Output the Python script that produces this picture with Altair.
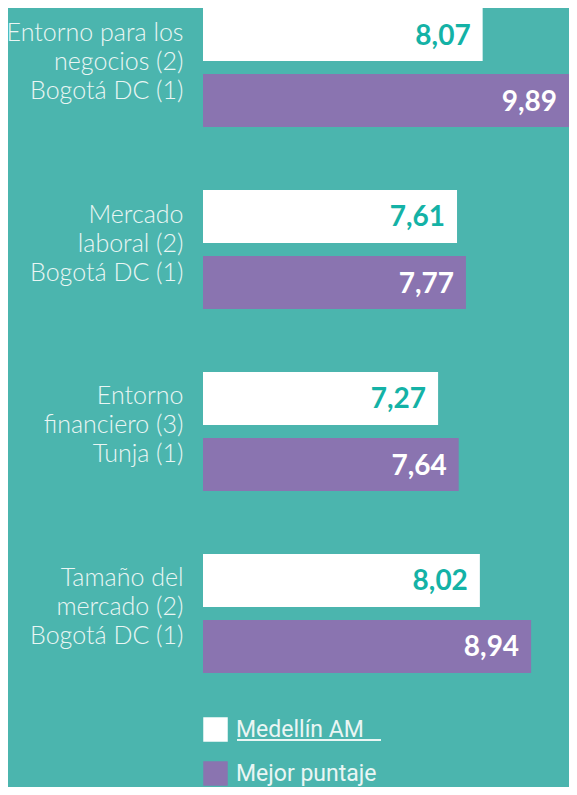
import altair as alt
import pandas as pd

# ---- data ----
category_lines = [
    ["Entorno para los", "negocios (2)"],
    ["Mercado", "laboral (2)"],
    ["Entorno", "financiero (3)"],
    ["Tamaño del", "mercado (2)"],
]
best_places = ["Bogotá DC (1)", "Bogotá DC (1)", "Tunja (1)", "Bogotá DC (1)"]
medellin_values = [8.07, 7.61, 7.27, 8.02]
best_values = [9.89, 7.77, 7.64, 8.94]
series = ["Medellín AM", "Mejor puntaje"]

# ---- styles ----
BG = "#4BB5AE"
PURPLE = "#8A74B0"
TEAL_TEXT = "#14B2A6"
LIGHT = "#EAF6F4"

rows = []
order = []
for lines, place, m, b in zip(category_lines, best_places, medellin_values, best_values):
    key = "|".join(lines + [place])
    order.append(key)
    for s, v in zip(series, [m, b]):
        rows.append({"grupo": key, "serie": s, "valor": v,
                     "etiqueta": f"{v:.2f}".replace(".", ",")})
df = pd.DataFrame(rows)

base = alt.Chart(df).encode(
    y=alt.Y(
        "grupo:N",
        sort=order,
        scale=alt.Scale(paddingInner=0.346, paddingOuter=0),
        axis=alt.Axis(
            title=None,
            domain=False,
            ticks=False,
            labelExpr="split(datum.label, '|')",
            labelFont="Lato",
            labelFontWeight=300,
            labelFontSize=25,
            labelLineHeight=29,
            labelColor=LIGHT,
            labelAlign="right",
            labelBaseline="middle",
            labelPadding=20,
            labelOffset=-35,
            labelLimit=400,
        ),
    ),
    yOffset=alt.YOffset(
        "serie:N", sort=series,
        scale=alt.Scale(paddingInner=0.197, paddingOuter=0),
    ),
)

xscale = alt.Scale(domain=[3.05, 9.62], zero=False, nice=False, clamp=True)

bars = base.mark_bar(clip=True).encode(
    x=alt.X("valor:Q", scale=xscale, axis=None),
    x2=alt.value(0),
    color=alt.Color(
        "serie:N",
        scale=alt.Scale(domain=series, range=["#FFFFFF", PURPLE]),
        legend=alt.Legend(
            orient="none",
            legendX=0,
            legendY=709,
            title=None,
            direction="vertical",
            symbolType="square",
            symbolSize=600,
            symbolStrokeWidth=0,
            symbolOpacity=1,
            labelFont="Roboto",
            labelFontSize=23,
            labelColor=LIGHT,
            labelOffset=8,
            rowPadding=19,
            padding=0,
        ),
    ),
)

labels = base.mark_text(
    align="right", baseline="middle", dx=-12, dy=2,
    font="Lato", fontSize=28, fontWeight="bold",
).encode(
    x=alt.X("valor:Q", scale=xscale, axis=None),
    text="etiqueta:N",
    color=alt.condition(alt.datum.serie == series[0], alt.value(TEAL_TEXT), alt.value("#FFFFFF")),
)

underline = alt.Chart(pd.DataFrame({"serie": [series[0]]})).mark_rule(
    color=LIGHT, strokeWidth=2
).encode(x=alt.value(34), x2=alt.value(178), y=alt.value(732))

chart = alt.layer(bars, labels, underline).properties(
    width=366,
    height=665,
    autosize=alt.AutoSizeParams(type="none"),
    padding={"left": 195, "top": 0, "right": 0, "bottom": 114},
    background=BG,
).configure_view(stroke=None)

chart.save("out.html", embed_options={"renderer": "svg", "actions": False})
